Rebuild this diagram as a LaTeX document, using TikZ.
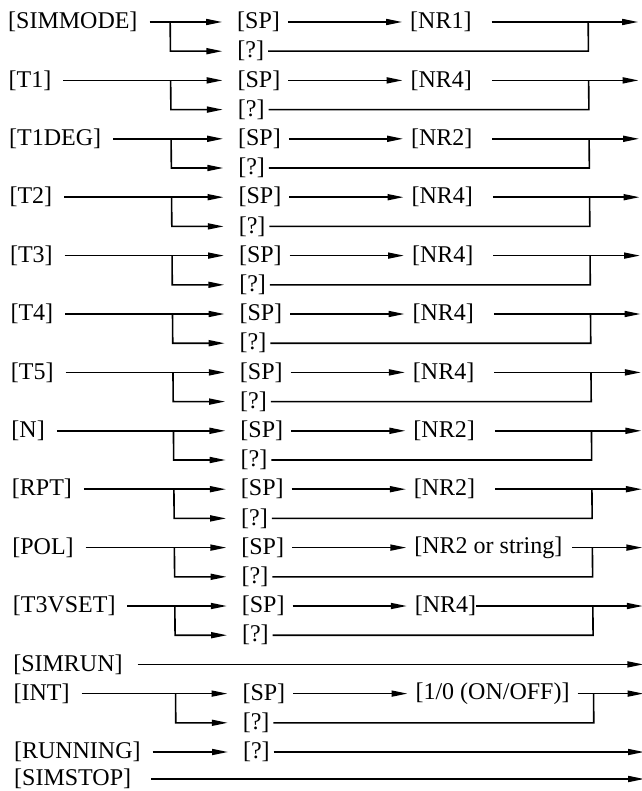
\documentclass[tikz,border=0pt]{standalone}
\usepackage{fontspec}
\setmainfont{Liberation Serif}
\usetikzlibrary{arrows.meta}

\tikzset{
  txt/.style={anchor=west, inner sep=0pt, outer sep=0pt, font=\fontsize{24}{28}\selectfont},
  link/.style={line width=1.6pt},
  arr/.style={link, -{Triangle[length=16pt,width=6pt]}}
}

\begin{document}
\begin{tikzpicture}[x=1pt, y=-1pt]
\useasboundingbox (0,0) rectangle (641,791);

\begin{scope}[xslant=-0.008]

% Commands taking a parameter or a query
\foreach \lab/\val/\g/\r [count=\k] in {SIMMODE/NR1/20/0, T1/NR4/20/2,
    T1DEG/NR2/20/4, T2/NR4/20/6, T3/NR4/20/8, T4/NR4/20/10, T5/NR4/20/12,
    N/NR2/20/14, RPT/NR2/20/16, POL/NR2 or string/10/18, T3VSET/NR4/0/20,
    INT/{1/0 (ON/OFF)}/8/23}{
  \pgfmathsetmacro\ya{22+29.2*\r}
  \pgfmathsetmacro\yb{\ya+29.2}
  \node[txt] (cmd\k) at (8,\ya) {[\lab]};
  \node[txt] (sp\k) at (237,\ya) {[SP]};
  \node[txt] (qm\k) at (237,\yb) {[?]};
  \node[txt] (nr\k) at (410,\ya) {[\val]};
  \coordinate (jl\k) at (170,\ya);
  \coordinate (jr\k) at (588,\ya);
  \coordinate (end\k) at (638,\ya);
  \draw[arr, shorten <=12pt, shorten >=15pt] (cmd\k.east) -- (sp\k.west);
  \draw[arr, shorten >=15pt] (jl\k) |- (qm\k.west);
  \draw[arr, shorten <=8pt, shorten >=8pt] (sp\k.east) -- (nr\k.west);
  \draw[arr, shorten <=\g pt] (nr\k.east) -- (end\k);
  \draw[link, shorten <=4pt] (qm\k.east) -| (jr\k);
}

% Commands without a parameter
\node[txt] (cmd13) at (8,664.4) {[SIMRUN]};
\coordinate (end13) at (638,664.4);
\draw[arr, shorten <=15pt] (cmd13.east) -- (end13);

\node[txt] (cmd14) at (8,752) {[RUNNING]};
\node[txt] (qm14) at (237,752) {[?]};
\coordinate (end14) at (638,752);
\draw[arr, shorten <=12pt, shorten >=15pt] (cmd14.east) -- (qm14.west);
\draw[arr, shorten <=4pt] (qm14.east) -- (end14);

\node[txt] (cmd15) at (8,779) {[SIMSTOP]};
\coordinate (end15) at (638,779);
\draw[arr, shorten <=20pt] (cmd15.east) -- (end15);

\end{scope}

\end{tikzpicture}
\end{document}
